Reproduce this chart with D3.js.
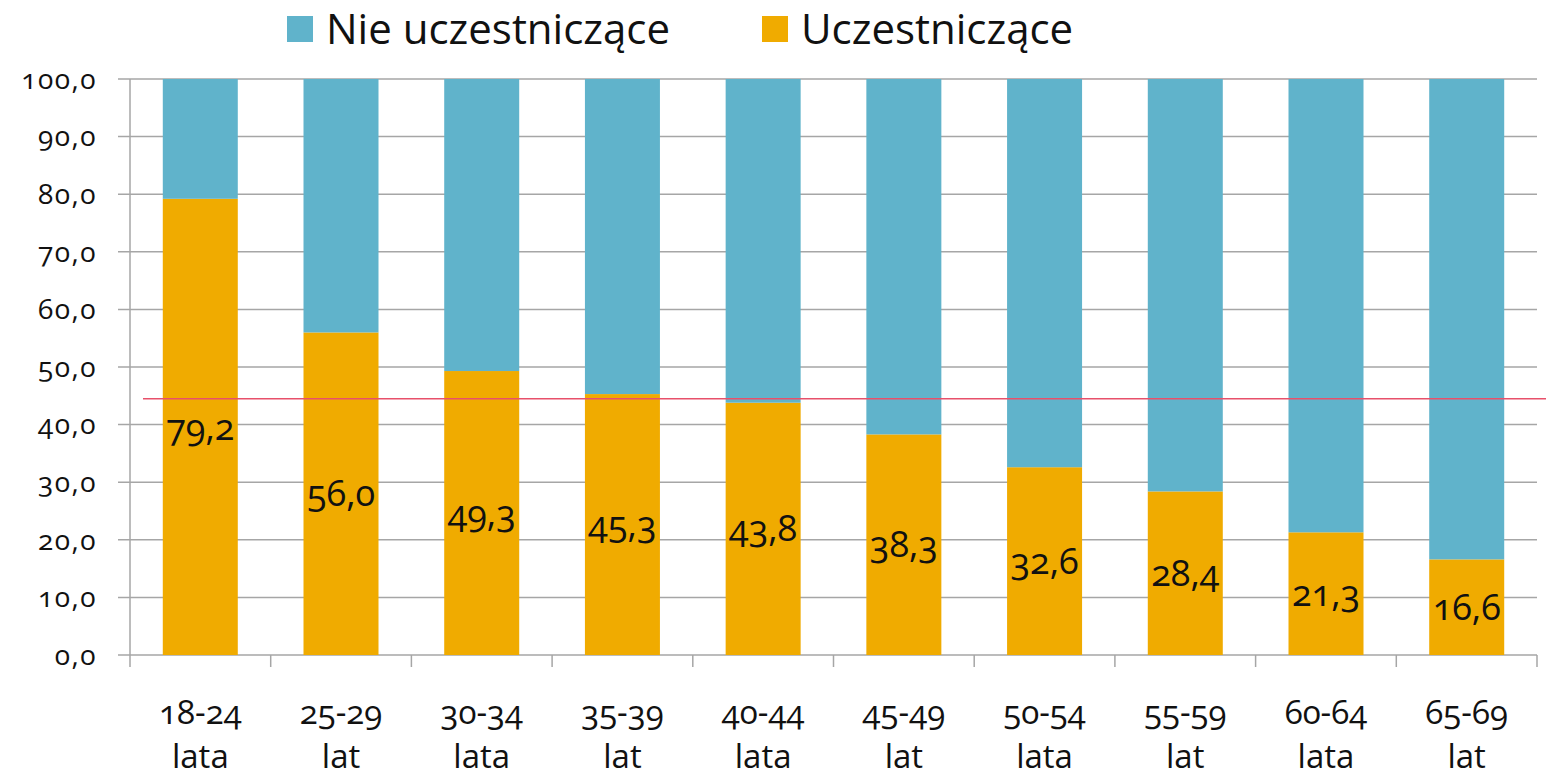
<!DOCTYPE html>
<html>
<head>
<meta charset="utf-8">
<script src="https://cdn.jsdelivr.net/npm/d3@7"></script>
<style>
  body { margin: 0; background: #fff; }
  svg text { font-family: "Open Sans", Lato, sans-serif; font-variant-numeric: oldstyle-nums; fill: #111; }
</style>
</head>
<body>
<svg id="chart"></svg>
<script>
var W = 1546, H = 782;

var categories = ["18-24 lata", "25-29 lat", "30-34 lata", "35-39 lat", "40-44 lata",
                  "45-49 lat", "50-54 lata", "55-59 lat", "60-64 lata", "65-69 lat"];
var uczestniczace = [79.2, 56.0, 49.3, 45.3, 43.8, 38.3, 32.6, 28.4, 21.3, 16.6];
var nieUczestniczace = uczestniczace.map(function(v) { return 100 - v; });
var yTicks = [0, 10, 20, 30, 40, 50, 60, 70, 80, 90, 100];
var refLine = 44.5;
var seriesNames = ["Nie uczestniczące", "Uczestniczące"];
var colors = { "Nie uczestniczące": "#60b3cb", "Uczestniczące": "#f0ab00" };

var plotLeft = 130, plotRight = 1537, plotTop = 79, plotBottom = 655;

var svg = d3.select("#chart").attr("width", W).attr("height", H);

var x = d3.scaleBand().domain(categories).range([plotLeft, plotRight]).paddingInner(0.467).paddingOuter(0.233);
var xb = d3.scaleBand().domain(categories).range([plotLeft, plotRight]);
var y = d3.scaleLinear().domain([0, 100]).range([plotBottom, plotTop]);

// gridlines
svg.append("g").selectAll("line").data(yTicks).enter().append("line")
    .attr("x1", plotLeft - 12).attr("x2", plotRight)
    .attr("y1", function(d) { return y(d); }).attr("y2", function(d) { return y(d); })
    .attr("stroke", "#a6a6a6").attr("stroke-width", 1.5);

// y axis line
svg.append("line").attr("x1", plotLeft).attr("x2", plotLeft).attr("y1", plotTop).attr("y2", plotBottom + 12)
    .attr("stroke", "#a6a6a6").attr("stroke-width", 1.5);

// x category ticks
var bounds = categories.map(function(c) { return xb(c) + xb.bandwidth(); });
svg.append("g").selectAll("line").data(bounds).enter().append("line")
    .attr("x1", function(d) { return d; }).attr("x2", function(d) { return d; })
    .attr("y1", plotBottom).attr("y2", plotBottom + 12)
    .attr("stroke", "#a6a6a6").attr("stroke-width", 1.5);

// y labels
svg.append("g").selectAll("text").data(yTicks).enter().append("text")
    .attr("x", 97).attr("y", function(d) { return y(d); })
    .attr("dy", "0.35em").attr("text-anchor", "end")
    .style("font-size", "28px").style("letter-spacing", "1.5px")
    .text(function(d) { return d3.format(".1f")(d).replace(".", ","); });

// bars
var stack = categories.map(function(c, i) {
    return { cat: c, u: uczestniczace[i], n: nieUczestniczace[i] };
});
var g = svg.append("g");
g.selectAll(".u").data(stack).enter().append("rect")
    .attr("x", function(d) { return x(d.cat); }).attr("width", x.bandwidth())
    .attr("y", function(d) { return y(d.u); })
    .attr("height", function(d) { return y(0) - y(d.u); })
    .attr("fill", colors["Uczestniczące"]);
g.selectAll(".n").data(stack).enter().append("rect")
    .attr("x", function(d) { return x(d.cat); }).attr("width", x.bandwidth())
    .attr("y", function(d) { return y(d.u + d.n); })
    .attr("height", function(d) { return y(d.u) - y(d.u + d.n); })
    .attr("fill", colors["Nie uczestniczące"]);

// reference line
svg.append("line")
    .attr("x1", 143).attr("x2", W)
    .attr("y1", y(refLine)).attr("y2", y(refLine))
    .attr("stroke", "#e8506a").attr("stroke-width", 1.5);

// data labels
svg.append("g").selectAll("text").data(stack).enter().append("text")
    .attr("x", function(d) { return x(d.cat) + x.bandwidth() / 2; })
    .attr("y", function(d) { return y(d.u / 2); })
    .attr("dy", "0.35em").attr("text-anchor", "middle")
    .style("font-size", "36px")
    .text(function(d) { return d3.format(".1f")(d.u).replace(".", ","); });

// category labels, two lines each
[0, 1].forEach(function(line) {
    svg.append("g").selectAll("text").data(categories).enter().append("text")
        .attr("text-anchor", "middle")
        .attr("x", function(d) { return xb(d) + xb.bandwidth() / 2; })
        .attr("y", line === 0 ? 724 : 768)
        .style("font-size", "33px")
        .text(function(d) { return d.split(" ")[line]; });
});

// legend
var legendX = [287, 762];
var lg = svg.append("g").selectAll("g").data(seriesNames).enter().append("g")
    .attr("transform", function(d, i) { return "translate(" + legendX[i] + ",16)"; });
lg.append("rect").attr("width", 26).attr("height", 26)
    .attr("fill", function(d) { return colors[d]; });
lg.append("text").attr("x", 39).attr("y", 13).attr("dy", "0.35em")
    .style("font-size", "42px").text(function(d) { return d; });
</script>
</body>
</html>
